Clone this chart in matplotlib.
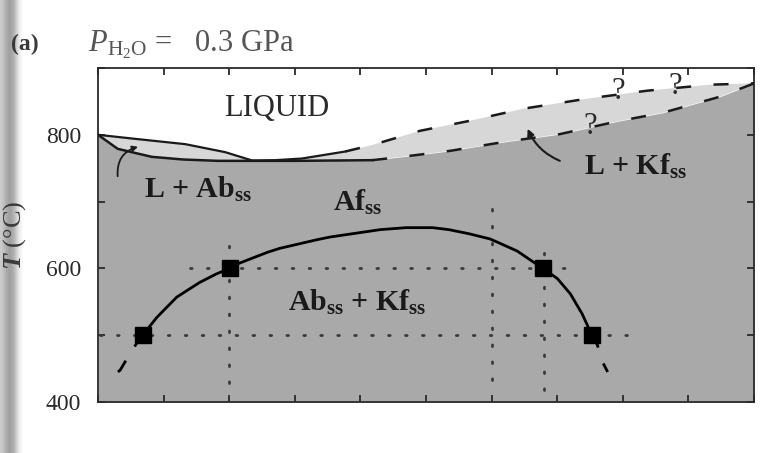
import numpy as np
import matplotlib
matplotlib.use("Agg")
import matplotlib.pyplot as plt

plt.rcParams["font.family"] = ["Liberation Serif", "DejaVu Serif"]
plt.rcParams["mathtext.fontset"] = "custom"
plt.rcParams["mathtext.rm"] = "Liberation Serif"
plt.rcParams["mathtext.it"] = "Liberation Serif:italic:bold"
plt.rcParams["mathtext.sf"] = "Liberation Serif:italic"
plt.rcParams["mathtext.bf"] = "Liberation Serif:bold"

# liquidus (Ab side solid, Kf side dashed), wt% Or vs T (C)
liq_solid_x = [0, 5.6, 13.3, 19.4, 23.5, 27.0, 31.1, 37.7]
liq_solid_T = [800, 794, 786, 774, 761.5, 762, 764.5, 775]
liq_dash_x = [37.7, 41.9, 49.1, 56.7, 64.8, 74.5, 83.7, 93.3, 100]
liq_dash_T = [775, 785, 806, 821, 839, 854, 866, 875, 877]

# solidus
sol_solid_x = [0, 3.0, 8.2, 13.0, 18.3, 23.5, 30.0, 36.0, 41.8]
sol_solid_T = [800, 779, 767, 763, 761, 761, 761, 761.5, 762]
sol_dash_x = [41.8, 46.3, 53.7, 61.7, 70.4, 79.1, 86.1, 94.8, 100]
sol_dash_T = [762, 767, 776, 789, 801, 820, 833, 857, 877]

# solvus
solvus_x = [6.8, 9.0, 12.0, 15.5, 18.1, 20.1, 21.6, 25.8, 27.7, 33.4, 35.4,
            43.0, 47.0, 51.0, 53.5, 56.5, 59.8, 63.9, 67.8, 70.0, 72.0,
            73.8, 75.3]
solvus_T = [500, 527, 557, 579, 592, 600, 608, 624, 630, 643, 647,
            658, 661, 661, 658, 652, 644, 626, 600, 585, 562,
            532, 500]
solvus_left_x = [6.8, 5.2, 3.4, 2.6]
solvus_left_T = [500, 478, 448, 441]
solvus_right_x = [75.3, 76.1, 76.9, 77.7]
solvus_right_T = [500, 486, 460, 445]

# experimental brackets
exp_x = [6.8, 20.1, 67.8, 75.3]
exp_T = [500, 600, 600, 500]
hdot_T = [600, 500]
hdot_x0 = [14, 0.3]
hdot_x1 = [73, 83]
vdot_x = [20, 60, 68]
vdot_T0 = [428, 433, 418]
vdot_T1 = [656, 693, 626]

# question marks
q_x = [79.3, 88.0, 75.0]
q_T = [865, 872, 812]

dark = "#a9a9a9"
light = "#d7d7d7"

fig = plt.figure(figsize=(7.64, 4.53), dpi=100)

# scan shading on the left edge
gax = fig.add_axes([0, 0, 28 / 764, 1])
shade = np.array([[0.80, 0.72, 0.64, 0.62, 0.70, 0.84, 0.95, 1.0, 1.0]])
gax.imshow(shade, cmap="gray", vmin=0, vmax=1, aspect="auto",
           interpolation="bicubic", extent=[0, 1, 0, 1])
gax.axis("off")

ax = fig.add_axes([98 / 764, 51 / 453, 656 / 764, 334 / 453])
ax.set_xlim(0, 100)
ax.set_ylim(400, 900)

sol_x = sol_solid_x + sol_dash_x[1:]
sol_T = sol_solid_T + sol_dash_T[1:]
liq_x = liq_solid_x + liq_dash_x[1:]
liq_T = liq_solid_T + liq_dash_T[1:]

ax.fill_between(sol_x, 400, sol_T, color=dark, lw=0, zorder=1)
ax.fill(liq_x + sol_x[::-1], liq_T + sol_T[::-1], color=light, lw=0, zorder=1)

dot = dict(color="#3a3a3a", lw=2.0, linestyle=(0, (0.6, 5.5)),
           dash_capstyle="round", zorder=2)
for T, x0, x1 in zip(hdot_T, hdot_x0, hdot_x1):
    ax.plot([x0, x1], [T, T], **dot)
for x, T0, T1 in zip(vdot_x, vdot_T0, vdot_T1):
    ax.plot([x, x], [T0, T1], **dot)

ax.plot(liq_solid_x, liq_solid_T, color="#1a1a1a", lw=1.6, zorder=3)
ax.plot(sol_solid_x, sol_solid_T, color="#1a1a1a", lw=1.8, zorder=3)
ax.plot(liq_dash_x, liq_dash_T, color="#1a1a1a", lw=1.8,
        dashes=(6, 9), zorder=3)
ax.plot(sol_dash_x, sol_dash_T, color="#1a1a1a", lw=1.8,
        dashes=(6, 9), zorder=3)

ax.plot(solvus_x, solvus_T, color="black", lw=2.0, zorder=3)
ax.plot(solvus_left_x, solvus_left_T, color="black", lw=2.0,
        dashes=(5, 6), zorder=3)
ax.plot(solvus_right_x, solvus_right_T, color="black", lw=2.0,
        dashes=(5, 6), zorder=3)
ax.plot(exp_x, exp_T, "s", color="black", ms=11, zorder=4)

ax.text(27.3, 839, "LIQUID", fontsize=22, ha="center", va="center",
        color="#2a2a2a")
lab = dict(fontsize=21.5, fontweight="bold", ha="center", va="center",
           color="#1a1a1a")
ax.text(15.3, 719, r"L + Ab$_{\mathbf{ss}}$", **lab)
ax.text(39.6, 699, r"Af$_{\mathbf{ss}}$", **lab)
ax.text(39.6, 549, r"Ab$_{\mathbf{ss}}$ + Kf$_{\mathbf{ss}}$", **lab)
ax.text(82.0, 752, r"L + Kf$_{\mathbf{ss}}$", **lab)
for x, T in zip(q_x, q_T):
    ax.text(x, T, "?", fontsize=22, ha="center", va="center", color="#2a2a2a")

ax.annotate("", xy=(65.5, 809), xytext=(70.4, 761),
            arrowprops=dict(arrowstyle="-|>", color="#1a1a1a", lw=1.5,
                            mutation_scale=10, shrinkA=0, shrinkB=0,
                            connectionstyle="arc3,rad=-0.2"))
ax.annotate("", xy=(6.1, 782), xytext=(3.0, 738),
            arrowprops=dict(arrowstyle="-|>", color="#1a1a1a", lw=1.3,
                            mutation_scale=8, shrinkA=0, shrinkB=0,
                            connectionstyle="arc3,rad=-0.4"))

ax.set_xticks(np.arange(0, 101, 10))
ax.set_xticklabels([])
ax.set_yticks(np.arange(400, 901, 100))
ax.set_yticklabels(["400", "", "600", "", "800", ""])
ax.tick_params(direction="in", length=5, width=1.3, color="#2a2a2a",
               top=True, right=True, labelsize=17, pad=12,
               labelcolor="#2a2a2a")
for s in ax.spines.values():
    s.set_linewidth(1.3)
    s.set_color("#2a2a2a")

ax.set_ylabel(r"$T$ (°C)", fontsize=19, color="#3a3a3a")
ax.yaxis.set_label_coords(-0.106, 0.5)

fig.text(25 / 764, 1 - 50 / 453, "(a)", fontsize=17, fontweight="bold",
         ha="center", va="baseline", color="#3a3a3a")
fig.text(88 / 764, 1 - 51 / 453, r"$\mathsf{P}_{\mathrm{H_2O}}$ =   0.3 GPa",
         fontsize=22, ha="left", va="baseline", color="#555555")

fig.savefig("out.png", dpi=100)
